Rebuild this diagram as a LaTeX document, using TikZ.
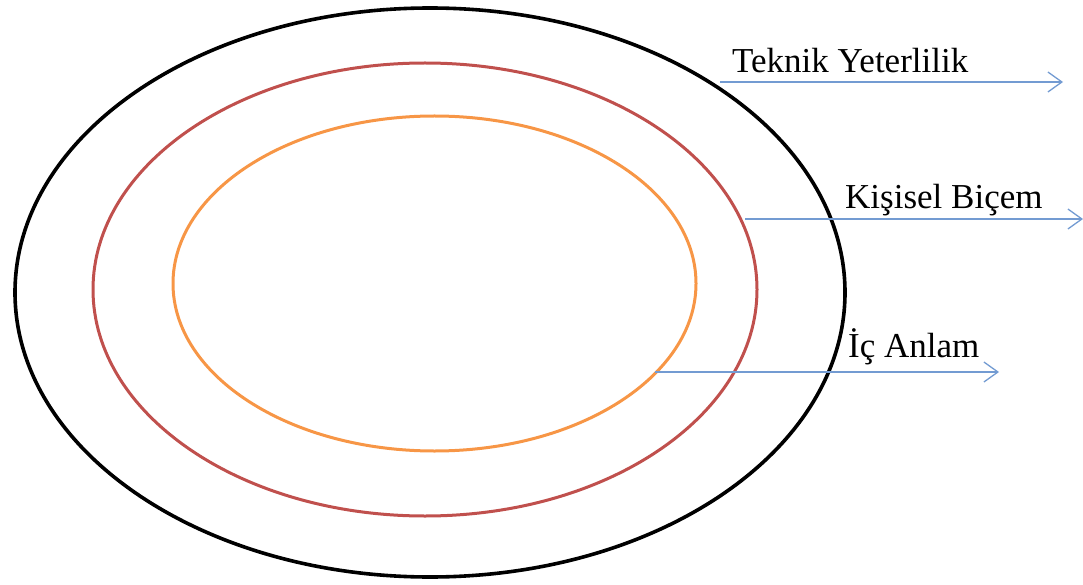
\documentclass[tikz,border=0pt]{standalone}
\usepackage{fontspec}
\setmainfont{Liberation Serif}
\usetikzlibrary{arrows.meta}
\definecolor{ringred}{RGB}{192,80,77}
\definecolor{ringorange}{RGB}{247,150,70}
\definecolor{arrowblue}{RGB}{115,155,210}
\tikzset{
  ring/.style={line width=3.6pt},
  label/.style={anchor=base west, inner sep=0pt, font=\fontsize{35}{40}\selectfont},
  pointer/.style={arrowblue, line width=1.5pt, -{Straight Barb[length=14pt,width=20pt,line width=1.3pt]}}
}
\begin{document}
\begin{tikzpicture}[x=1pt,y=-1pt]
\useasboundingbox (0,0) rectangle (1083,585);
\draw[ring,black] (430,292.5) ellipse [x radius=415, y radius=284.5];
\draw[ring,ringred,line width=3pt] (425,289.5) ellipse [x radius=332, y radius=226.5];
\draw[ring,ringorange,line width=3pt] (434.5,283.5) ellipse [x radius=261.5, y radius=167.5];
\node[label] (tek) at (732,73) {Teknik Yeterlilik};
\node[label] (kis) at (845,209) {Kişisel Biçem};
\node[label] (ic) at (848,357) {İç Anlam};
\coordinate (a1s) at (720,82);
\coordinate (a1e) at (1063,82);
\coordinate (a2s) at (745,219);
\coordinate (a2e) at (1083,219);
\coordinate (a3s) at (655,372);
\coordinate (a3e) at (999,372);
\draw[pointer] (a1s) -- (a1e);
\draw[pointer] (a2s) -- (a2e);
\draw[pointer] (a3s) -- (a3e);
\end{tikzpicture}
\end{document}
